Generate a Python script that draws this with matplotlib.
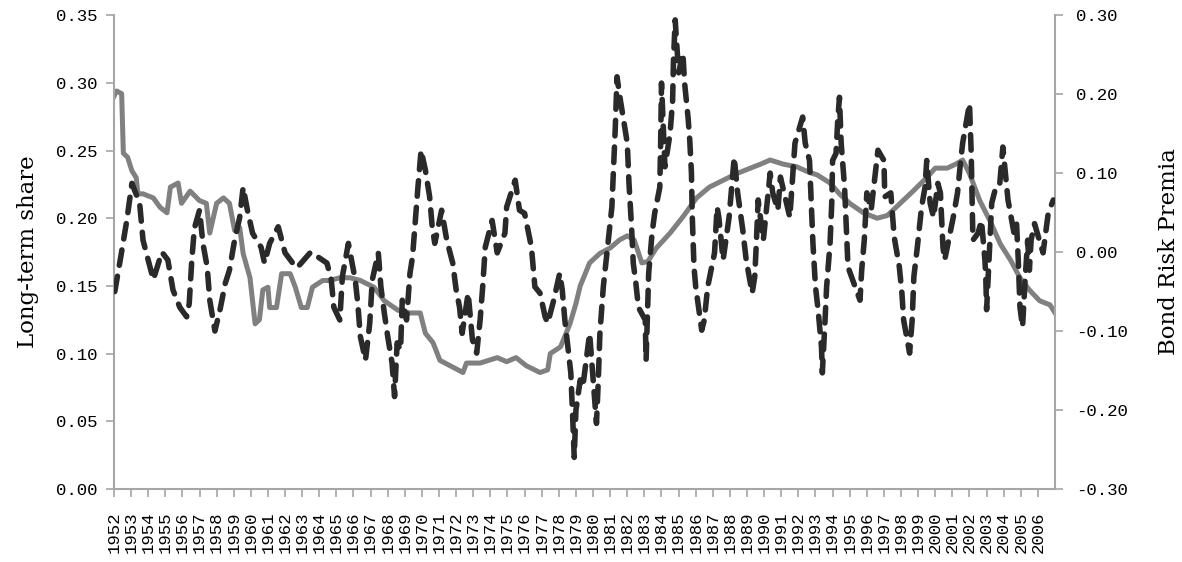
import matplotlib
matplotlib.use("Agg")
import matplotlib.pyplot as plt
from matplotlib.ticker import FormatStrFormatter, FixedLocator

# ---- data ----
share_dates = [1952.0, 1952.15, 1952.45, 1952.55, 1952.8, 1953.05, 1953.3, 1953.4, 1953.7, 1954.3,
               1954.7, 1955.1, 1955.3, 1955.75, 1955.95, 1956.45, 1957.0, 1957.4, 1957.6, 1958.0,
               1958.4, 1958.75, 1959.05, 1959.35, 1959.55, 1959.95, 1960.25, 1960.5, 1960.7, 1961.0,
               1961.1, 1961.5, 1961.8, 1962.3, 1962.6, 1962.95, 1963.3, 1963.6, 1964.2, 1964.6,
               1965.2, 1965.8, 1966.4, 1967.2, 1967.8, 1968.6, 1969.3, 1969.9, 1970.2, 1970.65,
               1971.05, 1971.8, 1972.4, 1972.6, 1973.4, 1974.4, 1974.95, 1975.5, 1976.1, 1976.9,
               1977.35, 1977.5, 1978.1, 1978.65, 1979.0, 1979.25, 1979.8, 1980.4, 1981.0, 1981.55,
               1982.0, 1982.4, 1982.85, 1983.2, 1983.7, 1984.5, 1985.25, 1986.05, 1986.8, 1987.6,
               1988.4, 1989.2, 1989.8, 1990.35, 1991.1, 1991.9, 1992.6, 1993.1, 1993.85, 1994.4,
               1995.0, 1995.8, 1996.6, 1997.2, 1997.95, 1998.7, 1999.5, 2000.0, 2000.7, 2001.2,
               2001.6, 2002.0, 2002.6, 2003.2, 2003.8, 2004.4, 2004.95, 2005.5, 2006.1, 2006.7,
               2007.0]
share_values = [0.290, 0.294, 0.292, 0.248, 0.245, 0.235, 0.230, 0.218, 0.218, 0.215,
                0.208, 0.204, 0.223, 0.226, 0.211, 0.220, 0.213, 0.211, 0.189, 0.211,
                0.215, 0.211, 0.191, 0.193, 0.174, 0.156, 0.122, 0.125, 0.147, 0.149,
                0.134, 0.134, 0.159, 0.159, 0.149, 0.134, 0.134, 0.149, 0.154, 0.154,
                0.156, 0.156, 0.154, 0.149, 0.139, 0.132, 0.130, 0.130, 0.115, 0.108,
                0.095, 0.090, 0.086, 0.093, 0.093, 0.097, 0.094, 0.097, 0.091, 0.086,
                0.088, 0.100, 0.105, 0.122, 0.137, 0.150, 0.167, 0.174, 0.178, 0.184,
                0.187, 0.184, 0.167, 0.168, 0.178, 0.189, 0.201, 0.215, 0.223, 0.228,
                0.233, 0.237, 0.240, 0.243, 0.240, 0.238, 0.234, 0.232, 0.226, 0.218,
                0.211, 0.204, 0.200, 0.202, 0.211, 0.220, 0.230, 0.237, 0.237, 0.240,
                0.243, 0.233, 0.213, 0.198, 0.181, 0.169, 0.156, 0.147, 0.139, 0.136,
                0.130]

premia_dates = [1952.05, 1952.4, 1952.75, 1953.05, 1953.5, 1953.7, 1954.0, 1954.3, 1954.8, 1955.15,
                1955.45, 1955.85, 1956.25, 1956.4, 1956.55, 1956.7, 1957.0, 1957.2, 1957.45, 1957.6,
                1957.9, 1958.2, 1958.5, 1958.75, 1959.05, 1959.35, 1959.55, 1959.8, 1960.1, 1960.6,
                1960.8, 1961.1, 1961.6, 1962.0, 1962.45, 1962.7, 1963.5, 1964.45, 1964.7, 1964.85,
                1965.2, 1965.35, 1965.7, 1966.1, 1966.25, 1966.4, 1966.7, 1966.95, 1967.1, 1967.45,
                1967.6, 1967.8, 1968.0, 1968.25, 1968.4, 1968.55, 1968.75, 1968.85, 1969.1, 1969.3,
                1969.45, 1969.6, 1969.75, 1969.95, 1970.2, 1970.45, 1970.6, 1970.75, 1971.15, 1971.45,
                1971.8, 1972.0, 1972.2, 1972.35, 1972.7, 1972.95, 1973.2, 1973.4, 1973.55, 1973.7,
                1974.1, 1974.4, 1974.85, 1974.95, 1975.45, 1975.7, 1976.0, 1976.4, 1976.6, 1976.9,
                1977.2, 1977.35, 1977.7, 1978.05, 1978.2, 1978.35, 1978.55, 1978.7, 1978.8, 1978.9,
                1979.0, 1979.25, 1979.4, 1979.8, 1979.95, 1980.2, 1980.3, 1980.4, 1980.6, 1980.85,
                1981.1, 1981.2, 1981.3, 1981.4, 1981.6, 1981.85, 1982.0, 1982.1, 1982.25, 1982.35,
                1982.5, 1982.65, 1983.05, 1983.1, 1983.25, 1983.45, 1983.6, 1983.9, 1983.95, 1984.0,
                1984.2, 1984.5, 1984.65, 1984.7, 1984.8, 1985.0, 1985.25, 1985.35, 1985.55, 1985.65,
                1985.75, 1985.8, 1985.9, 1986.0, 1986.35, 1986.5, 1986.7, 1987.1, 1987.25, 1987.35,
                1987.6, 1987.95, 1988.25, 1988.45, 1988.75, 1988.95, 1989.3, 1989.45, 1989.55, 1989.65,
                1989.95, 1990.35, 1990.5, 1990.8, 1990.95, 1991.5, 1991.8, 1992.25, 1992.4, 1992.65,
                1992.75, 1992.85, 1993.0, 1993.15, 1993.35, 1993.4, 1993.55, 1993.65, 1993.85, 1993.95,
                1994.0, 1994.2, 1994.3, 1994.4, 1994.5, 1994.7, 1994.8, 1994.9, 1995.1, 1995.6,
                1995.7, 1995.85, 1996.0, 1996.25, 1996.5, 1996.65, 1997.0, 1997.05, 1997.4, 1997.6,
                1997.9, 1998.05, 1998.15, 1998.5, 1998.65, 1998.75, 1998.95, 1999.2, 1999.4, 1999.5,
                1999.7, 1999.9, 2000.15, 2000.3, 2000.45, 2000.55, 2001.05, 2001.3, 2001.45, 2001.6,
                2001.8, 2002.0, 2002.1, 2002.2, 2002.5, 2002.7, 2002.9, 2002.95, 2003.0, 2003.3,
                2003.5, 2003.75, 2003.95, 2004.25, 2004.6, 2004.75, 2004.85, 2004.95, 2005.1, 2005.25,
                2005.4, 2005.5, 2005.6, 2005.8, 2006.3, 2006.6, 2006.9]
premia_values = [-0.050, -0.006, 0.040, 0.087, 0.062, 0.015, -0.010, -0.035, 0.000, -0.010,
                 -0.048, -0.070, -0.082, -0.065, -0.010, 0.030, 0.053, 0.011, -0.019, -0.061,
                 -0.100, -0.073, -0.040, -0.023, 0.015, 0.044, 0.082, 0.053, 0.024, 0.006,
                 -0.014, 0.011, 0.032, -0.001, -0.014, -0.020, 0.000, -0.014, -0.035, -0.070,
                 -0.086, -0.031, 0.011, -0.035, -0.065, -0.107, -0.137, -0.090, -0.035, -0.001,
                 -0.044, -0.077, -0.107, -0.140, -0.183, -0.115, -0.124, -0.061, -0.086, -0.027,
                 -0.006, 0.036, 0.078, 0.129, 0.104, 0.070, 0.032, 0.011, 0.053, 0.015,
                 -0.014, -0.048, -0.070, -0.103, -0.052, -0.111, -0.128, -0.086, -0.044, 0.006,
                 0.040, -0.001, 0.024, 0.057, 0.091, 0.053, 0.049, 0.006, -0.044, -0.052,
                 -0.082, -0.090, -0.061, -0.027, -0.048, -0.086, -0.124, -0.153, -0.204, -0.260,
                 -0.200, -0.162, -0.171, -0.103, -0.146, -0.217, -0.166, -0.103, -0.044, 0.006,
                 0.057, 0.108, 0.158, 0.222, 0.192, 0.158, 0.138, 0.087, 0.032, -0.014,
                 -0.039, -0.070, -0.086, -0.137, -0.027, 0.024, 0.049, 0.082, 0.138, 0.214,
                 0.108, 0.150, 0.192, 0.243, 0.294, 0.227, 0.252, 0.214, 0.171, 0.142,
                 0.100, 0.044, -0.019, -0.044, -0.099, -0.086, -0.044, -0.001, 0.057, 0.044,
                 -0.010, 0.044, 0.120, 0.075, 0.028, -0.010, -0.052, -0.031, 0.015, 0.066,
                 0.015, 0.100, 0.075, 0.053, 0.095, 0.044, 0.138, 0.171, 0.138, 0.116,
                 0.062, 0.011, -0.044, -0.073, -0.120, -0.153, -0.090, -0.044, 0.011, 0.062,
                 0.116, 0.125, 0.167, 0.196, 0.138, 0.082, 0.032, -0.019, -0.031, -0.061,
                 -0.023, 0.015, 0.075, 0.053, 0.100, 0.129, 0.116, 0.070, 0.075, 0.019,
                 -0.019, -0.052, -0.086, -0.128, -0.086, -0.031, 0.006, 0.057, 0.082, 0.116,
                 0.062, 0.044, 0.087, 0.075, 0.006, -0.010, 0.044, 0.075, 0.108, 0.138,
                 0.163, 0.188, 0.125, 0.015, 0.024, 0.040, -0.010, -0.031, -0.073, 0.062,
                 0.079, 0.082, 0.133, 0.066, 0.024, 0.036, -0.010, -0.070, -0.095, -0.035,
                 0.015, -0.023, 0.015, 0.036, -0.001, 0.049, 0.066]

years = list(range(1952, 2007))
year_labels = [str(y) for y in years]
left_ticks = [0.00, 0.05, 0.10, 0.15, 0.20, 0.25, 0.30, 0.35]
right_ticks = [-0.30, -0.20, -0.10, 0.00, 0.10, 0.20, 0.30]

# ---- figure ----
fig = plt.figure(figsize=(11.82, 5.62), dpi=100)
ax = fig.add_axes([0.0964, 0.13, 0.7962, 0.843])
ax2 = ax.twinx()

spine_col = "#a6a6a6"
mono = ["Liberation Mono", "DejaVu Sans Mono"]
lab_font = dict(family=["DejaVu Serif"], size=16.5)

ax.plot(share_dates, share_values, color="#808080", lw=3.6, solid_joinstyle="round", zorder=2)
ax2.plot(premia_dates, premia_values, color="#2a2a2a", lw=4.0,
         dashes=(2.8, 2.0), dash_capstyle="round", zorder=3)

ax.set_xlim(1952, 2007)
ax.set_ylim(0, 0.35)
ax2.set_ylim(-0.30, 0.30)

ax.yaxis.set_major_locator(FixedLocator(left_ticks))
ax2.yaxis.set_major_locator(FixedLocator(right_ticks))
ax.yaxis.set_major_formatter(FormatStrFormatter("%.2f"))
ax2.yaxis.set_major_formatter(FormatStrFormatter("%.2f"))
ax.set_xticks(years)
ax.set_xticklabels(year_labels, rotation=90, family=mono, size=12.5)
for t in ax.get_yticklabels() + ax2.get_yticklabels():
    t.set_fontfamily(mono)
    t.set_fontsize(12.5)

for a in (ax, ax2):
    a.spines["top"].set_visible(False)
    for s in ("left", "right", "bottom"):
        a.spines[s].set_color(spine_col)
        a.spines[s].set_linewidth(1.5)
    a.tick_params(axis="both", color=spine_col, width=1.2, length=6, direction="out",
                  labelcolor="black")
ax.spines["right"].set_visible(False)
ax2.spines["left"].set_visible(False)
ax2.spines["bottom"].set_visible(False)
ax.tick_params(axis="y", pad=6)
ax2.tick_params(axis="y", pad=9)
ax.tick_params(axis="x", pad=10)

ax.set_ylabel("Long-term share", labelpad=12, **lab_font)
ax2.set_ylabel("Bond Risk Premia", labelpad=22, **lab_font)

fig.savefig("out.png", dpi=100)
